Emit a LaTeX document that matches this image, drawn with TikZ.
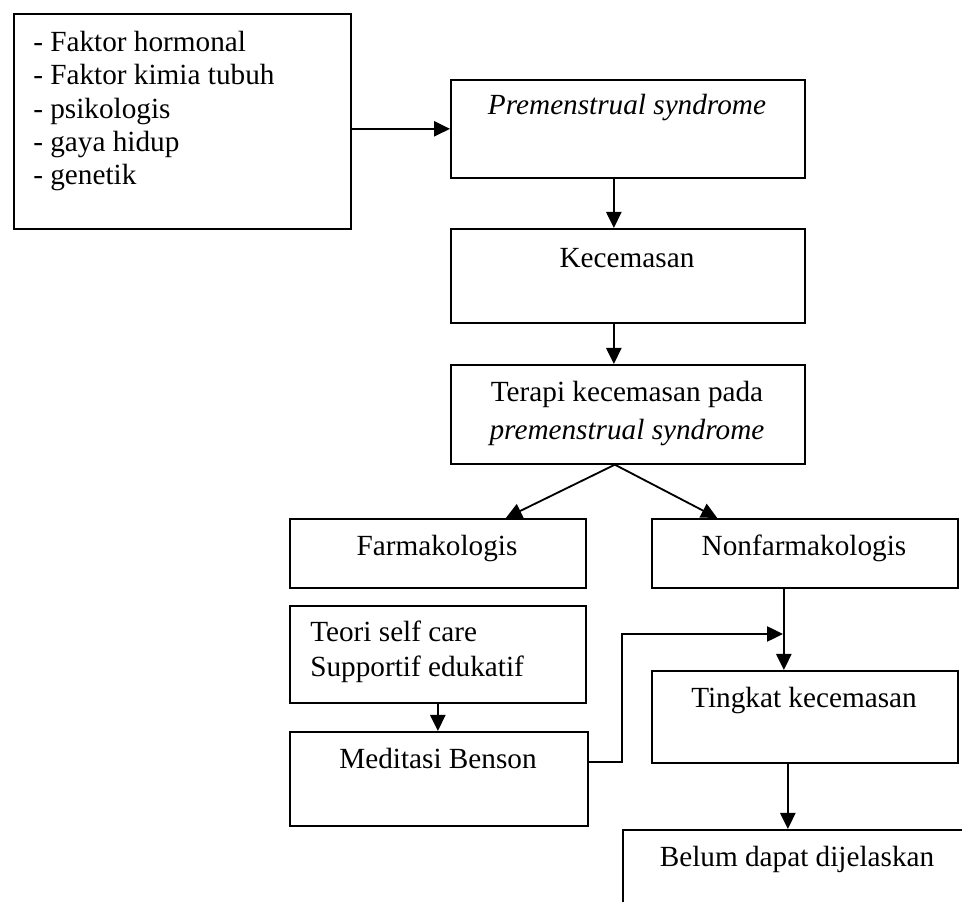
\documentclass[tikz,border=0pt]{standalone}
\usepackage{fontspec}
\setmainfont{Liberation Serif}
\usepackage{tikz}
\usetikzlibrary{calc}
\usetikzlibrary{arrows.meta}
\usetikzlibrary{positioning}

\tikzset{
  kotak/.style={draw, line width=1.2pt, anchor=north west, inner sep=0pt},
  teks/.style={anchor=base, inner sep=0pt},
  baris/.style={anchor=base west, inner sep=0pt},
  panah/.style={line width=1.3pt, -{Triangle[length=0.4cm, width=0.38cm]}}
}

\begin{document}
\begin{tikzpicture}[font=\fontsize{20.8}{24}\selectfont]
			\useasboundingbox (0,0) rectangle (24.05,22.55);
			% kotak-kotak
			\node[kotak, minimum width=8.425cm, minimum height=5.375cm] at(0.325, 22.225) (faktor){};
			\node[kotak, minimum width=8.85cm, minimum height=2.45cm] at(11.25, 20.575) (pms){};
			\node[kotak, minimum width=8.85cm, minimum height=2.35cm] at(11.25, 16.85) (kec){};
			\node[kotak, minimum width=8.85cm, minimum height=2.475cm] at(11.25, 13.45) (terapi){};
			\node[kotak, minimum width=7.4cm, minimum height=1.725cm] at(7.225, 9.6) (farm){};
			\node[kotak, minimum width=7.65cm, minimum height=1.725cm] at(16.275, 9.6) (nonfarm){};
			\node[kotak, minimum width=7.4cm, minimum height=2.425cm] at(7.225, 7.425) (teori){};
			\node[kotak, minimum width=7.45cm, minimum height=2.35cm] at(7.225, 4.275) (meditasi){};
			\node[kotak, minimum width=7.65cm, minimum height=2.3cm] at(16.275, 5.8) (tingkat){};
			\node[kotak, minimum width=8.75cm, minimum height=3cm] at(15.55, 1.825) (belum){};
			% teks
			\node[baris] at(0.825, 21.26) (f1){- Faktor hormonal};
			\node[baris] at(0.825, 20.425) (f2){- Faktor kimia tubuh};
			\node[baris] at(0.825, 19.59) (f3){- psikologis};
			\node[baris] at(0.825, 18.76) (f4){- gaya hidup};
			\node[baris] at(0.825, 17.925) (f5){- genetik};
			\node[teks] at(15.675, 19.675) (tpms){\textit{Premenstrual syndrome}};
			\node[teks] at(15.675, 15.86) (tkec){Kecemasan};
			\node[teks] at(15.675, 12.5) (tter1){Terapi kecemasan pada};
			\node[teks] at(15.675, 11.57) (tter2){\textit{premenstrual syndrome}};
			\node[teks] at(10.925, 8.65) (tfarm){Farmakologis};
			\node[teks] at(20.1, 8.65) (tnon){Nonfarmakologis};
			\node[baris] at(7.75, 6.51) (tteo1){Teori self care};
			\node[baris] at(7.75, 5.63) (tteo2){Supportif edukatif};
			\node[teks] at(10.95, 3.325) (tmed){Meditasi Benson};
			\node[teks] at(20.1, 4.85) (tting){Tingkat kecemasan};
			\node[teks] at(19.925, 0.875) (tbel){Belum dapat dijelaskan};
			% panah
			\coordinate (belok) at (15.55, 3.5);
			\coordinate (masuk) at (19.575, 6.7);
			\draw[panah] (faktor.east |- pms.west) -- (pms.west);
			\draw[panah] ([xshift=-0.35cm]pms.south) -- ([xshift=-0.35cm]kec.north);
			\draw[panah] ([xshift=-0.35cm]kec.south) -- ([xshift=-0.35cm]terapi.north);
			\draw[panah] ([xshift=-0.325cm]terapi.south) -- ([xshift=1.7cm]farm.north);
			\draw[panah] ([xshift=-0.325cm]terapi.south) -- ([xshift=-2.19cm]nonfarm.north);
			\draw[panah] ([xshift=-0.525cm]nonfarm.south) -- ([xshift=-0.525cm]tingkat.north);
			\draw[panah] (teori.south) -- (teori.south |- meditasi.north);
			\draw[panah] (meditasi.east |- belok) -- (belok) |- (masuk);
			\draw[panah] ([xshift=-0.425cm]tingkat.south) -- ([xshift=-0.425cm]tingkat.south |- belum.north);
		\end{tikzpicture}
\end{document}
